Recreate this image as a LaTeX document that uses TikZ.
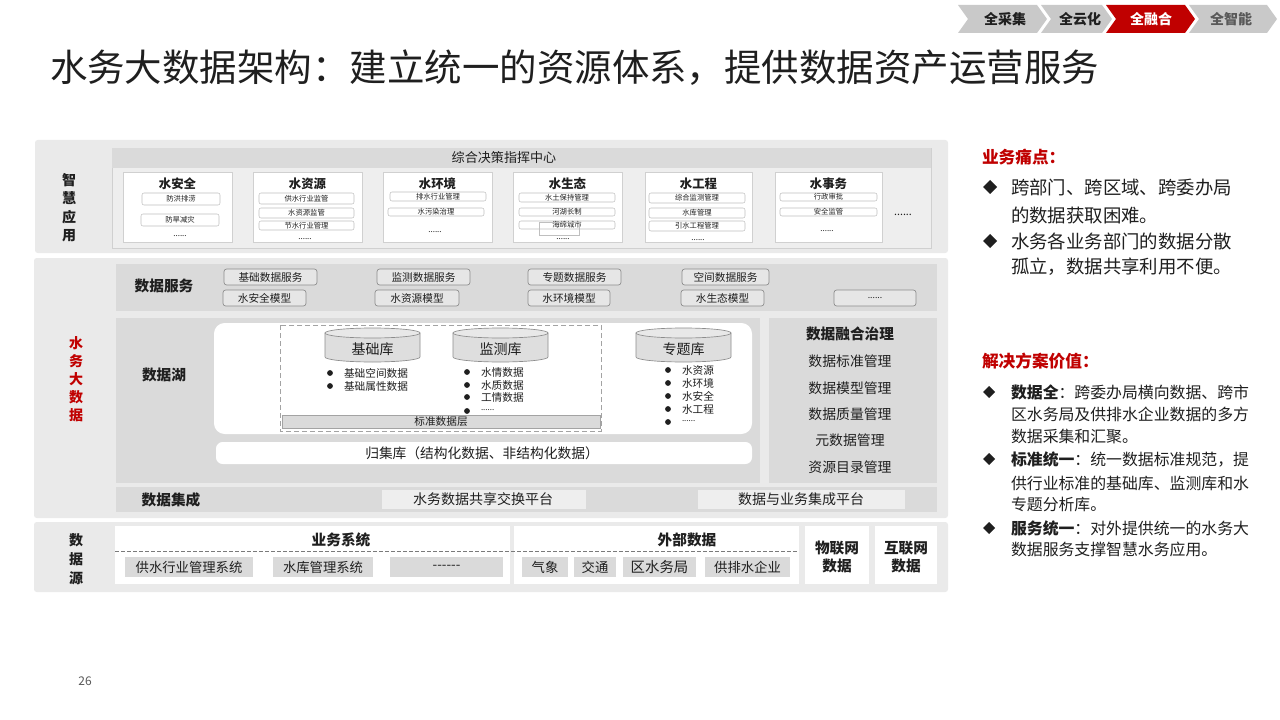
\documentclass[tikz,border=0pt]{standalone}
\usepackage{fontspec}
\setmainfont{Noto Sans CJK SC}
\newcommand\fsz[1]{\fontsize{#1}{#1}\selectfont}
\definecolor{panelc}{HTML}{EAEAEA}
\definecolor{darkc}{HTML}{DADADA}
\definecolor{framec}{HTML}{EEEEEE}
\definecolor{frameline}{HTML}{D0D0D0}
\definecolor{svcc}{HTML}{E6E6E6}
\definecolor{svcline}{HTML}{8C8C8C}
\definecolor{itmline}{HTML}{BFBFBF}
\definecolor{cardline}{HTML}{D0D0D0}
\definecolor{srcc}{HTML}{DADADA}
\definecolor{tabc}{HTML}{C9C9C9}
\definecolor{redc}{HTML}{C00000}
\definecolor{txtc}{HTML}{1F1F1F}
\definecolor{greytxt}{HTML}{595959}
\definecolor{cylf}{HTML}{DEDEDE}
\newcommand\cylx[3]{%
  \filldraw[fill=cylf,draw=svcline,line width=0.5pt] ({#1-47.5},333) -- ({#1-47.5},357) arc[start angle=180,end angle=0,x radius=47.5,y radius=5] -- ({#1+47.5},333) -- cycle;
  \filldraw[fill=cylf!70!white,draw=svcline,line width=0.5pt] (#1,333) ellipse [x radius=47.5,y radius=5];
  \node[font=\fsz{10.5}] (#2) at (#1,349) {#3};
}
\begin{document}
\begin{tikzpicture}[x=0.75pt,y=-0.75pt]
\tikzset{
  every node/.style={inner sep=0pt,outer sep=0pt,text=txtc},
  panel/.style={fill=panelc,rounded corners=2},
  darkp/.style={fill=darkc},
  svc/.style={fill=svcc,draw=svcline,rounded corners=2,line width=0.5pt},
  svct/.style={font=\fsz{8}},
  itm/.style={fill=white,draw=itmline,rounded corners=1.5,line width=0.4pt},
  itxt/.style={font=\fsz{5.5}},
  cardb/.style={fill=white,draw=cardline,line width=0.5pt},
  ctitle/.style={font=\fsz{9.3}\bfseries},
  dotsm/.style={font=\fsz{6}},
  srcitem/.style={fill=srcc},
  srct/.style={font=\fsz{10}},
  tabshape/.style={fill=tabc},
  tabt/.style={font=\fsz{10.5}\bfseries},
  sideb/.style={font=\fsz{11}\bfseries},
  gov/.style={font=\fsz{10.4}},
  bul/.style={font=\fsz{8},anchor=west},
  rt1/.style={font=\fsz{13.8},anchor=west,text=txtc},
  rt2/.style={font=\fsz{11.9},anchor=west,text=txtc},
  rhead/.style={font=\fsz{12.5}\bfseries,anchor=west,text=redc},
  vlab/.style={font=\fontsize{10.5}{13.9}\selectfont\bfseries,align=center}
}
\useasboundingbox (0,0) rectangle (1280,720);
\fill[white] (0,0) rectangle (1280,720);

% ---- tabs
\fill[tabshape] (958,5) -- (1037,5) -- (1047,19) -- (1037,33) -- (958,33) -- (968,19) -- cycle;
\fill[tabshape] (1041,5) -- (1102,5) -- (1112,19) -- (1102,33) -- (1041,33) -- (1051,19) -- cycle;
\fill[redc] (1106,5) -- (1185,5) -- (1195,19) -- (1185,33) -- (1106,33) -- (1116,19) -- cycle;
\fill[tabshape] (1189,5) -- (1267,5) -- (1277,19) -- (1267,33) -- (1189,33) -- (1199,19) -- cycle;
\node[tabt] (t1) at (1005,19) {全采集};
\node[tabt] (t2) at (1080,19) {全云化};
\node[tabt,text=white] (t3) at (1151,19) {全融合};
\node[tabt,text=greytxt] (t4) at (1231,19) {全智能};

% ---- title
\node[anchor=west,font=\fsz{28.1},text=txtc] (title) at (50,68) {水务大数据架构：建立统一的资源体系，提供数据资产运营服务};

% ---- smart applications
\fill[panel] (35,140) rectangle (948,253);
\node[vlab] (lblA) at (69,207.5) {智\\慧\\应\\用};
\draw[fill=framec,draw=frameline,line width=0.5pt] (112,148) rectangle (931,248);
\fill[darkc] (112,148) rectangle (931,168);
\node[font=\fsz{9.8}] (hdr) at (504,158) {综合决策指挥中心};

\draw[cardb] (123,172) rectangle (232,242);
\node[ctitle] (c1) at (177.5,184) {水安全};
\draw[itm] (142,193) rectangle node[itxt] (c1a) {防洪排涝} (220,205);
\draw[itm] (141,214) rectangle node[itxt] (c1b) {防旱减灾} (219,226);
\node[dotsm] (c1d) at (180,236) {......};

\draw[cardb] (253,172) rectangle (362,242);
\node[ctitle] (c2) at (307.5,184) {水资源};
\draw[itm] (259,193) rectangle node[itxt] (c2a) {供水行业监管} (354,204);
\draw[itm] (259,208) rectangle node[itxt] (c2b) {水资源监管} (354,218);
\draw[itm] (259,221) rectangle node[itxt] (c2c) {节水行业管理} (354,230);
\node[dotsm] (c2d) at (305,239) {......};

\draw[cardb] (383,172) rectangle (492,242);
\node[ctitle] (c3) at (437.5,184) {水环境};
\draw[itm] (390,192) rectangle node[itxt] (c3a) {排水行业管理} (486,201);
\draw[itm] (388,208) rectangle node[itxt] (c3b) {水污染治理} (484,216);
\node[dotsm] (c3d) at (435,232) {......};

\draw[cardb] (513,172) rectangle (622,242);
\node[ctitle] (c4) at (567.5,184) {水生态};
\draw[itm] (519,193) rectangle node[itxt] (c4a) {水土保持管理} (615,202);
\draw[itm] (519,208) rectangle node[itxt] (c4b) {河湖长制} (615,216);
\draw[itm] (519,221) rectangle node[itxt] (c4c) {海绵城市} (615,229);
\draw[draw=itmline,line width=0.4pt] (539,222) rectangle (579,235);
\node[dotsm] (c4d) at (563,239) {......};

\draw[cardb] (645,172) rectangle (752,242);
\node[ctitle] (c5) at (698.5,184) {水工程};
\draw[itm] (649,193) rectangle node[itxt] (c5a) {综合监测管理} (745,203);
\draw[itm] (649,208) rectangle node[itxt] (c5b) {水库管理} (745,218);
\draw[itm] (649,221) rectangle node[itxt] (c5c) {引水工程管理} (745,231);
\node[dotsm] (c5d) at (698,240) {......};

\draw[cardb] (775,172) rectangle (882,242);
\node[ctitle] (c6) at (828.5,184) {水事务};
\draw[itm] (780,193) rectangle node[itxt] (c6a) {行政审批} (877,201);
\draw[itm] (780,208) rectangle node[itxt] (c6b) {安全监管} (877,216);
\node[dotsm] (c6d) at (827,231) {......};
\node[font=\fsz{8}] (c7d) at (903,215) {......};

% ---- big data
\fill[panel] (34,258) rectangle (948,518);
\node[vlab,text=redc,font=\fontsize{10.5}{13.5}\selectfont\bfseries] (lblB) at (76,379.5) {水\\务\\大\\数\\据};

% data services
\fill[darkp] (116,264) rectangle (937,311);
\node[sideb] (dsv) at (164,286) {数据服务};
\draw[svc] (224,269) rectangle node[svct] (s1) {基础数据服务} (317,285);
\draw[svc] (377,269) rectangle node[svct] (s2) {监测数据服务} (470,285);
\draw[svc] (528,269) rectangle node[svct] (s3) {专题数据服务} (621,285);
\draw[svc] (682,269) rectangle node[svct] (s4) {空间数据服务} (769,285);
\draw[svc] (223,290) rectangle node[svct] (m1) {水安全模型} (306,306);
\draw[svc] (375,290) rectangle node[svct] (m2) {水资源模型} (459,306);
\draw[svc] (528,290) rectangle node[svct] (m3) {水环境模型} (610,306);
\draw[svc] (681,290) rectangle node[svct] (m4) {水生态模型} (764,306);
\draw[svc] (834,290) rectangle node[font=\fsz{6.5}] (m5) {......} (916,306);

% data lake
\fill[darkp] (116,318) rectangle (760,483);
\node[sideb] (dlk) at (164,375) {数据湖};
\fill[white,rounded corners=8] (214,323) rectangle (752,434);
\draw[draw=svcline!80,dash pattern=on 4pt off 2pt,line width=0.6pt] (280,325) rectangle (601,431);
\draw[fill=darkc,draw=svcline!80,line width=0.5pt] (282,415) rectangle node[svct] (std) {标准数据层} (600,428);
\cylx{372.5}{db1}{基础库}
\cylx{500.5}{db2}{监测库}
\cylx{683.5}{db3}{专题库}
% bullets
\fill[txtc] (330,373) circle (2.9); \node[bul] (b11) at (344,373) {基础空间数据};
\fill[txtc] (330,386) circle (2.9); \node[bul] (b12) at (344,386) {基础属性数据};
\fill[txtc] (467,372) circle (2.9); \node[bul] (b21) at (481,372) {水情数据};
\fill[txtc] (467,385) circle (2.9); \node[bul] (b22) at (481,385) {水质数据};
\fill[txtc] (467,397) circle (2.9); \node[bul] (b23) at (481,397) {工情数据};
\fill[txtc] (467,411) circle (2.9); \node[bul,font=\fsz{6}] (b24) at (481,410) {......};
\fill[txtc] (668,370) circle (2.9); \node[bul] (b31) at (682,370) {水资源};
\fill[txtc] (668,383) circle (2.9); \node[bul] (b32) at (682,383) {水环境};
\fill[txtc] (668,396) circle (2.9); \node[bul] (b33) at (682,396) {水安全};
\fill[txtc] (668,409) circle (2.9); \node[bul] (b34) at (682,409) {水工程};
\fill[txtc] (668,422) circle (2.9); \node[bul,font=\fsz{6}] (b35) at (682,421) {......};
% collection store
\fill[white,rounded corners=5] (216,442) rectangle (752,464);
\node[font=\fsz{10.3}] (gjk) at (482,453) {归集库（结构化数据、非结构化数据）};

% data governance
\fill[darkp] (769,318) rectangle (937,483);
\node[font=\fsz{11}\bfseries] (g0) at (850,334) {数据融合治理};
\node[gov] (g1) at (850,361) {数据标准管理};
\node[gov] (g2) at (850,388) {数据模型管理};
\node[gov] (g3) at (850,414) {数据质量管理};
\node[gov] (g4) at (850,440) {元数据管理};
\node[gov] (g5) at (850,467) {资源目录管理};

% data integration
\fill[darkp] (116,487) rectangle (937,512);
\node[sideb] (dji) at (171,500) {数据集成};
\fill[framec] (382,490) rectangle (586,509);
\node[font=\fsz{10.5}] (p1) at (483,499.5) {水务数据共享交换平台};
\fill[framec] (698,490) rectangle (905,509);
\node[font=\fsz{10.5}] (p2) at (801,499.5) {数据与业务集成平台};

% ---- data sources
\fill[panel] (34,522) rectangle (948,592);
\node[vlab,font=\fontsize{10.5}{14.3}\selectfont\bfseries] (lblC) at (76,559) {数\\据\\源};
\fill[white] (115,526) rectangle (510,584);
\fill[white] (514,526) rectangle (799,584);
\fill[white] (805,526) rectangle (869,584);
\fill[white] (875,526) rectangle (937,584);
\node[font=\fsz{11}\bfseries] (ywx) at (341,540) {业务系统};
\node[font=\fsz{11}\bfseries] (wbs) at (687,540) {外部数据};
\coordinate (dl1) at (115,551);
\coordinate (dl2) at (799,551);
\draw[draw=greytxt!80,dash pattern=on 3pt off 1.5pt,line width=0.6pt] (dl1) -- (dl2);
\fill[srcitem] (125,557) rectangle (253,577); \node[srct] (q1) at (189,567) {供水行业管理系统};
\fill[srcitem] (273,557) rectangle (373,577); \node[srct] (q2) at (323,567) {水库管理系统};
\fill[srcitem] (390,557) rectangle (503,577); \node[srct] (q3) at (446.5,567) {-{}-{}-{}-{}-{}-};
\fill[srcitem] (522,557) rectangle (568,577); \node[srct] (q4) at (545,567) {气象};
\fill[srcitem] (574,557) rectangle (616,577); \node[srct] (q5) at (595,567) {交通};
\fill[srcitem] (623,557) rectangle (696,577); \node[font=\fsz{10.8}] (q6) at (659.5,567) {区水务局};
\fill[srcitem] (705,557) rectangle (790,577); \node[srct] (q7) at (747.5,567) {供排水企业};
\node[font=\fontsize{11}{13.2}\selectfont\bfseries,align=center] (iot) at (837,557) {物联网\\数据};
\node[font=\fontsize{11}{13.2}\selectfont\bfseries,align=center] (inet) at (906,557) {互联网\\数据};

% ---- right text
\node[rhead] (h1) at (982,157) {业务痛点：};
\fill[txtc] (990,180) -- (997,187) -- (990,194) -- (983,187) -- cycle;
\node[rt1] (r11) at (1011,188) {跨部门、跨区域、跨委办局};
\node[rt1] (r12) at (1011,215) {的数据获取困难。};
\fill[txtc] (990,234) -- (997,241) -- (990,248) -- (983,241) -- cycle;
\node[rt1] (r13) at (1011,241) {水务各业务部门的数据分散};
\node[rt1] (r14) at (1011,267) {孤立，数据共享利用不便。};

\node[rhead] (h2) at (982,361) {解决方案价值：};
\fill[txtc] (989,386) -- (995,392) -- (989,398) -- (983,392) -- cycle;
\node[rt2] (r21) at (1011,392) {\textbf{数据全}：跨委办局横向数据、跨市};
\node[rt2] (r22) at (1011,414) {区水务局及供排水企业数据的多方};
\node[rt2] (r23) at (1011,437) {数据采集和汇聚。};
\fill[txtc] (989,453) -- (995,459) -- (989,465) -- (983,459) -- cycle;
\node[rt2] (r24) at (1011,459) {\textbf{标准统一}：统一数据标准规范，提};
\node[rt2] (r25) at (1011,483) {供行业标准的基础库、监测库和水};
\node[rt2] (r26) at (1011,504) {专题分析库。};
\fill[txtc] (989,522) -- (995,528) -- (989,534) -- (983,528) -- cycle;
\node[rt2] (r27) at (1011,528) {\textbf{服务统一}：对外提供统一的水务大};
\node[rt2] (r28) at (1011,549) {数据服务支撑智慧水务应用。};

% page number
\node[font=\fsz{9},text=greytxt] (pg) at (85,681) {26};
\end{tikzpicture}
\end{document}
